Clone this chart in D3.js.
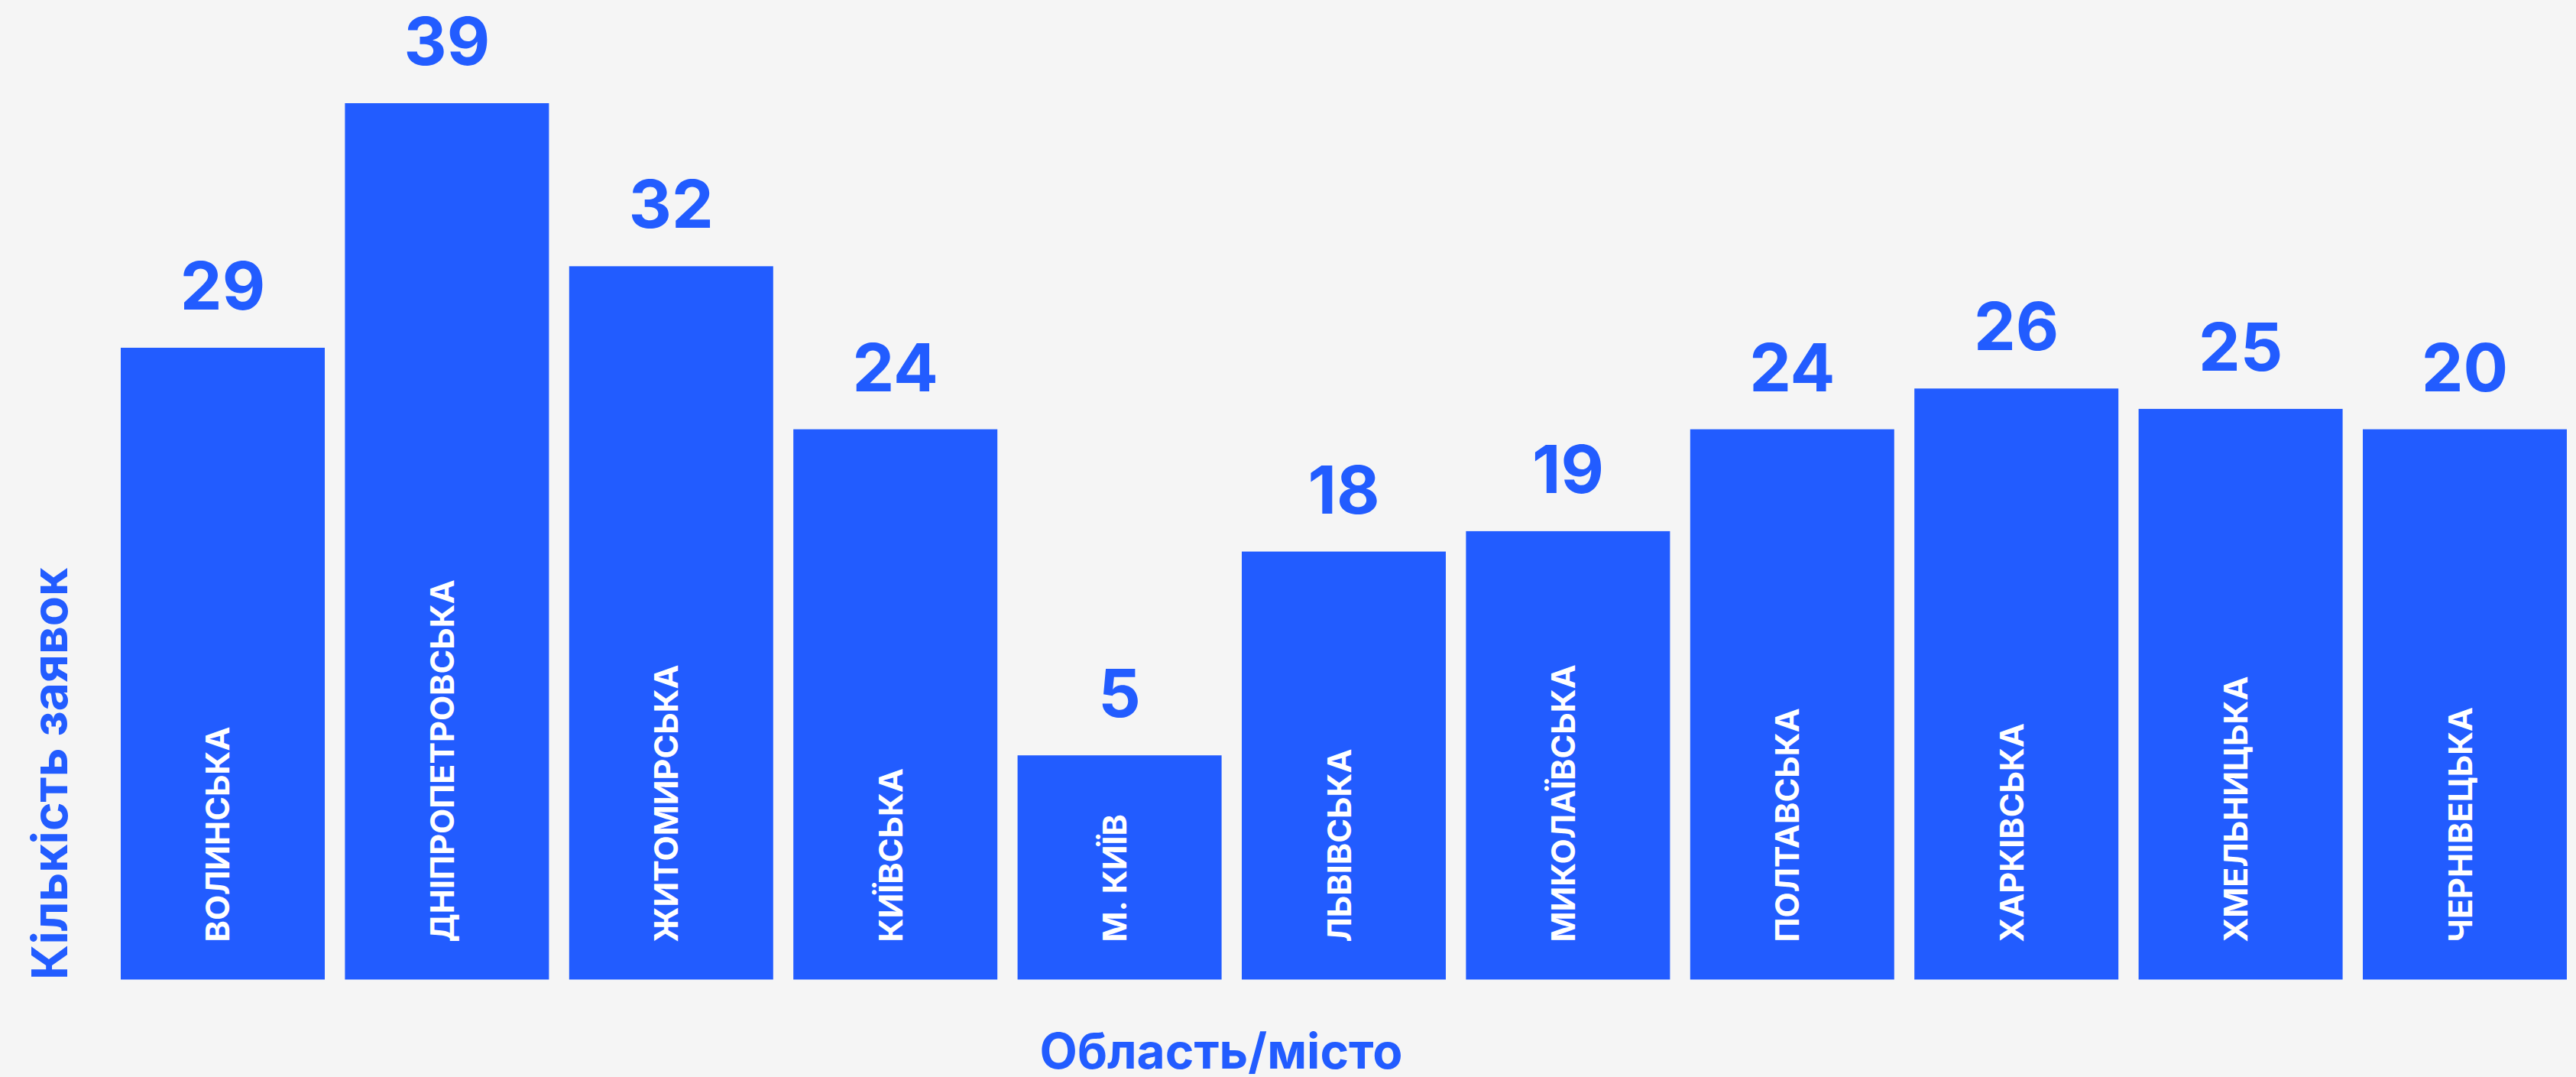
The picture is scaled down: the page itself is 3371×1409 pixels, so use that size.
<!DOCTYPE html>
<html>
<head>
<meta charset="utf-8">
<script src="https://cdn.jsdelivr.net/npm/d3@7"></script>
<style>
  html, body { margin: 0; padding: 0; background: #F5F5F5; }
  svg { display: block; }
  text { font-family: Inter, "Noto Sans", "Liberation Sans", sans-serif; font-weight: 700; }
</style>
</head>
<body>
<svg id="chart" width="3371" height="1409"></svg>
<script>
// Categories (regions / city)
const regions = ["ВОЛИНСЬКА", "ДНІПРОПЕТРОВСЬКА", "ЖИТОМИРСЬКА", "КИЇВСЬКА", "М. КИЇВ", "ЛЬВІВСЬКА",
  "МИКОЛАЇВСЬКА", "ПОЛТАВСЬКА", "ХАРКІВСЬКА", "ХМЕЛЬНИЦЬКА", "ЧЕРНІВЕЦЬКА"];
// Number of applications shown above each bar
const counts = [29, 39, 32, 24, 5, 18, 19, 24, 26, 25, 20];
// Bar lengths as drawn in the picture
const barLengths = [28, 40, 32, 24, 8, 18, 19, 24, 26, 25, 24];
const yTitle = "Кількість заявок";
const xTitle = "Область/місто";

const W = 3371, H = 1409;
const blue = "#225CFF";
const svg = d3.select("#chart");
svg.append("rect").attr("width", W).attr("height", H).attr("fill", "#F5F5F5");

const x = d3.scaleBand().domain(regions).range([158, 3359]).paddingInner(0.09).paddingOuter(0);
const y = d3.scaleLinear().domain([-3, 40]).range([1281.5, 135]);

const data = regions.map((r, i) => ({ region: r, count: counts[i], len: barLengths[i] }));

const g = svg.append("g");
g.selectAll("rect.bar").data(data).join("rect")
  .attr("class", "bar")
  .attr("x", d => x(d.region))
  .attr("y", d => y(d.len))
  .attr("width", x.bandwidth())
  .attr("height", d => y(-3) - y(d.len))
  .attr("fill", blue);

// value labels
g.selectAll("text.val").data(data).join("text")
  .attr("class", "val")
  .attr("x", d => x(d.region) + x.bandwidth() / 2)
  .attr("y", d => y(d.len) - 50)
  .attr("text-anchor", "middle")
  .attr("font-size", 87)
  .attr("fill", blue)
  .text(d => d.count);

// category labels inside bars
g.selectAll("text.cat").data(data).join("text")
  .attr("class", "cat")
  .attr("transform", d => `translate(${x(d.region) + x.bandwidth() / 2 + 9},${y(-3) - 49}) rotate(-90)`)
  .attr("text-anchor", "start")
  .attr("font-size", 43)
  .attr("fill", "#FFFFFF")
  .text(d => d.region);

// axis titles
svg.append("text")
  .attr("transform", `translate(88,1282) rotate(-90)`)
  .attr("text-anchor", "start")
  .attr("font-size", 64)
  .attr("fill", blue)
  .text(yTitle);

svg.append("text")
  .attr("x", 1598)
  .attr("y", 1398)
  .attr("text-anchor", "middle")
  .attr("font-size", 64)
  .attr("fill", blue)
  .text(xTitle);
</script>
</body>
</html>
